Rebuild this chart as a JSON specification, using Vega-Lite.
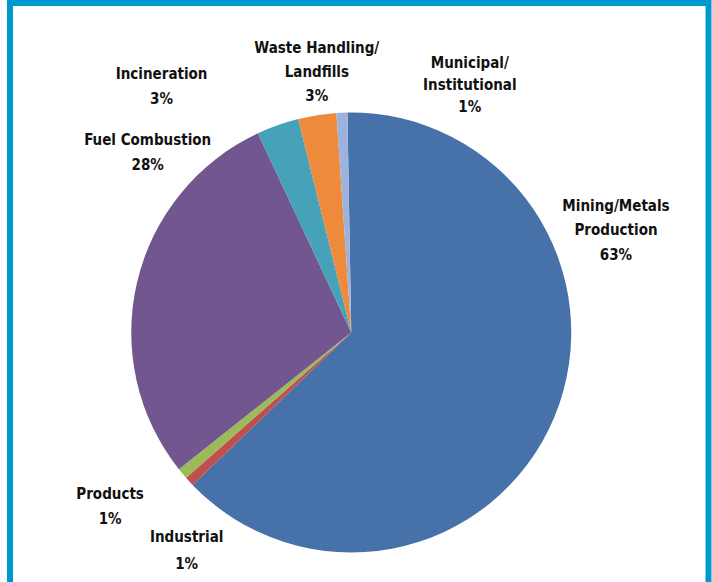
{
  "$schema": "https://vega.github.io/schema/vega-lite/v6.json",
  "width": 698.5,
  "height": 589,
  "autosize": {"type": "none"},
  "padding": {"left": 10, "top": 3, "right": 3.5, "bottom": -10},
  "background": "white",
  "view": {"stroke": "#0099CC", "strokeWidth": 6, "fill": "white"},
  "data": {
    "values": [
      {"idx": 1, "category": "Mining/Metals Production", "value": 63.1, "label": "Mining/Metals\nProduction\n63%"},
      {"idx": 2, "category": "Industrial", "value": 0.7, "label": "Industrial\n1%"},
      {"idx": 3, "category": "Products", "value": 0.8, "label": "Products\n1%"},
      {"idx": 4, "category": "Fuel Combustion", "value": 28.7, "label": "Fuel Combustion\n28%"},
      {"idx": 5, "category": "Incineration", "value": 3.1, "label": "Incineration\n3%"},
      {"idx": 6, "category": "Waste Handling/Landfills", "value": 2.8, "label": "Waste Handling/\nLandfills\n3%"},
      {"idx": 7, "category": "Municipal/Institutional", "value": 0.8, "label": "Municipal/\nInstitutional\n1%"}
    ]
  },
  "encoding": {
    "theta": {"field": "value", "type": "quantitative", "stack": true, "scale": {"range": [-0.0175, 6.2657]}},
    "order": {"field": "idx", "type": "quantitative"}
  },
  "layer": [
    {
      "mark": {"type": "arc", "radius": 220, "xOffset": -8, "yOffset": 35},
      "encoding": {
        "color": {
          "field": "category",
          "type": "nominal",
          "legend": null,
          "scale": {
            "domain": ["Mining/Metals Production", "Industrial", "Products", "Fuel Combustion", "Incineration", "Waste Handling/Landfills", "Municipal/Institutional"],
            "range": ["#4672A9", "#C0504D", "#9BBB59", "#72568F", "#45A2B9", "#EE8A3C", "#9DB2DC"]
          }
        }
      }
    },
    {
      "mark": {"type": "text", "clip": true, "radius": 284, "dx": 2.5, "dy": -236, "xOffset": -8, "yOffset": 35, "lineBreak": "\n", "lineHeight": 24.5, "align": "center", "baseline": "middle"},
      "encoding": {"text": {"condition": {"test": "datum.idx === 1", "field": "label"}, "value": ""}}
    },
    {
      "mark": {"type": "text", "clip": true, "radius": 267, "dx": 32, "dy": 23.5, "xOffset": -8, "yOffset": 35, "lineBreak": "\n", "lineHeight": 27, "align": "center", "baseline": "middle"},
      "encoding": {"text": {"condition": {"test": "datum.idx === 2", "field": "label"}, "value": ""}}
    },
    {
      "mark": {"type": "text", "clip": true, "radius": 296, "dx": -14, "dy": -28.5, "xOffset": -8, "yOffset": 35, "lineBreak": "\n", "lineHeight": 25, "align": "center", "baseline": "middle"},
      "encoding": {"text": {"condition": {"test": "datum.idx === 3", "field": "label"}, "value": ""}}
    },
    {
      "mark": {"type": "text", "clip": true, "radius": 242, "dx": 32, "dy": -137, "xOffset": -8, "yOffset": 35, "lineBreak": "\n", "lineHeight": 25, "align": "center", "baseline": "middle"},
      "encoding": {"text": {"condition": {"test": "datum.idx === 4", "field": "label"}, "value": ""}}
    },
    {
      "mark": {"type": "text", "clip": true, "radius": 295, "dx": -91, "dy": 19.5, "xOffset": -8, "yOffset": 35, "lineBreak": "\n", "lineHeight": 25, "align": "center", "baseline": "middle"},
      "encoding": {"text": {"condition": {"test": "datum.idx === 5", "field": "label"}, "value": ""}}
    },
    {
      "mark": {"type": "text", "clip": true, "radius": 264, "dx": 6.5, "dy": -23.5, "xOffset": -8, "yOffset": 35, "lineBreak": "\n", "lineHeight": 24, "align": "center", "baseline": "middle"},
      "encoding": {"text": {"condition": {"test": "datum.idx === 6", "field": "label"}, "value": ""}}
    },
    {
      "mark": {"type": "text", "clip": true, "radius": 245, "dx": 129, "dy": -24.5, "xOffset": -8, "yOffset": 35, "lineBreak": "\n", "lineHeight": 22, "align": "center", "baseline": "middle"},
      "encoding": {"text": {"condition": {"test": "datum.idx === 7", "field": "label"}, "value": ""}}
    }
  ],
  "config": {
    "text": {"font": "'DejaVu Sans Condensed', sans-serif", "fontSize": 15, "fontWeight": "bold", "color": "#111111"}
  }
}
